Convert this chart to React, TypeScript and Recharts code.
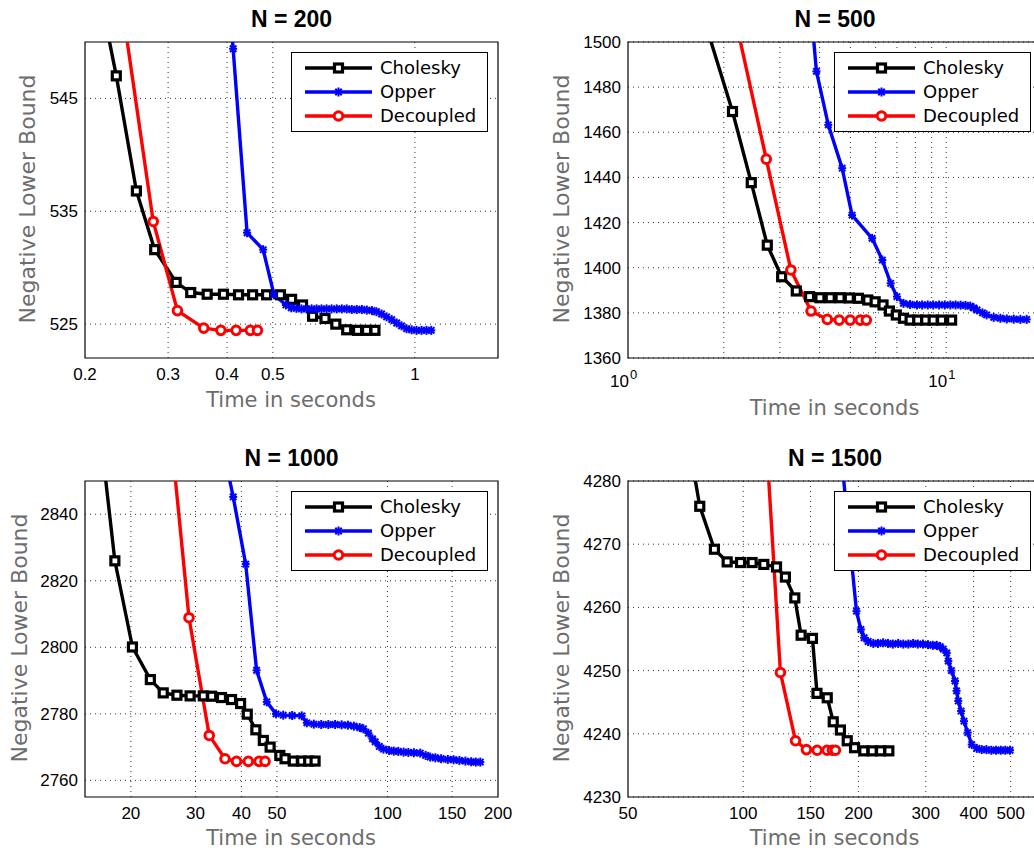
import React from "react"
import { LineChart, Line, XAxis, YAxis, CartesianGrid, ReferenceArea } from "recharts"

type Pt = [number, number]

// N = 200  (time in seconds, negative lower bound)
const CHOL_200: Pt[] = [
  [0.202, 560], [0.233, 547.0], [0.257, 536.8], [0.281, 531.6], [0.312, 528.7], [0.335, 527.8],
  [0.363, 527.65], [0.393, 527.65], [0.423, 527.6], [0.453, 527.6], [0.485, 527.6], [0.519, 527.6],
  [0.548, 527.2], [0.578, 526.7], [0.607, 525.7], [0.645, 525.5], [0.680, 525.0], [0.717, 524.5],
  [0.756, 524.45], [0.790, 524.45], [0.823, 524.45],
]
const OPP_200: Pt[] = [
  [0.394, 560], [0.412, 549.4], [0.441, 533.1], [0.477, 531.6], [0.503, 527.6], [0.533, 526.7],
  [0.547, 526.45], [0.561, 526.4], [0.575, 526.35], [0.589, 526.35], [0.604, 526.35], [0.619, 526.35],
  [0.634, 526.35], [0.650, 526.35], [0.666, 526.35], [0.683, 526.35], [0.700, 526.35], [0.717, 526.35],
  [0.735, 526.3], [0.753, 526.3], [0.772, 526.3], [0.791, 526.25], [0.811, 526.2], [0.829, 526.1],
  [0.850, 525.9], [0.871, 525.65], [0.893, 525.4], [0.915, 525.1], [0.937, 524.85], [0.960, 524.6],
  [0.984, 524.5], [1.008, 524.45], [1.033, 524.45], [1.058, 524.45], [1.083, 524.45],
]
const DEC_200: Pt[] = [
  [0.227, 560], [0.279, 534.1], [0.314, 526.2], [0.357, 524.65], [0.388, 524.45], [0.418, 524.45],
  [0.448, 524.45], [0.464, 524.45],
]

// N = 500
const CHOL_500: Pt[] = [
  [1.65, 1520], [2.13, 1469.2], [2.44, 1437.7], [2.74, 1410], [3.04, 1396], [3.38, 1389.7],
  [3.72, 1387.2], [4.01, 1386.7], [4.32, 1386.7], [4.64, 1386.7], [4.96, 1386.6], [5.30, 1386.45],
  [5.67, 1385.7], [5.98, 1384.9], [6.33, 1383.5], [6.63, 1380.8], [6.97, 1379.05], [7.34, 1377.6],
  [7.70, 1376.8], [8.14, 1376.8], [8.62, 1376.8], [9.10, 1376.8], [9.67, 1376.8], [10.40, 1376.8],
]
const OPP_500: Pt[] = [
  [3.73, 1520], [3.91, 1487], [4.26, 1463.3], [4.71, 1444.1], [5.06, 1423.3], [5.85, 1413],
  [6.3, 1403.4], [6.69, 1393.1], [7.0, 1387.2], [7.34, 1384.2], [7.7, 1383.7], [8.09, 1383.5],
  [8.4, 1383.5], [8.75, 1383.5], [9.1, 1383.5], [9.5, 1383.5], [9.9, 1383.5], [10.3, 1383.5],
  [10.7, 1383.5], [11.1, 1383.4], [11.5, 1383.3], [11.9, 1383.0], [12.2, 1382.2], [12.5, 1381.3],
  [13.0, 1380.0], [13.4, 1379.1], [14.1, 1378], [14.8, 1377.6], [15.5, 1377.3], [16.3, 1377.2],
  [17.1, 1377.1], [17.9, 1377.1],
]
const DEC_500: Pt[] = [
  [2.10, 1520], [2.72, 1448.1], [3.25, 1399], [3.76, 1380.8], [4.23, 1377.1], [4.61, 1376.8],
  [4.99, 1376.8], [5.37, 1376.8], [5.61, 1376.8],
]

// N = 1000
const CHOL_1000: Pt[] = [
  [16.3, 2870], [18.09, 2826], [20.2, 2800.1], [22.6, 2790.3], [24.5, 2786.3], [26.7, 2785.6],
  [29.0, 2785.4], [31.5, 2785.4], [33.2, 2785.3], [35.3, 2784.9], [37.6, 2784.3], [39.8, 2783.1],
  [41.5, 2779.9], [43.8, 2775.2], [45.9, 2772.0], [47.9, 2770.0], [50.9, 2767.5], [52.6, 2766.5],
  [55.4, 2765.8], [58.4, 2765.8], [61, 2765.8], [63.5, 2765.8],
]
const OPP_1000: Pt[] = [
  [34.1, 2870], [38.0, 2845.2], [41.1, 2825], [44.0, 2793.1], [46.9, 2783.6], [49.7, 2780.0],
  [52, 2779.6], [55, 2779.5], [58.4, 2779.4], [60.3, 2777.3], [63, 2776.9], [66, 2776.8],
  [69, 2776.8], [72, 2776.8], [75, 2776.7], [78, 2776.6], [81, 2776.3], [84, 2775.9],
  [86, 2775.5], [88.7, 2774.2], [91, 2772.5], [92.6, 2771.6], [95, 2770.2], [97.5, 2769.4],
  [101, 2769.0], [104, 2768.8], [107, 2768.7], [110.6, 2768.5], [114, 2768.4], [118, 2768.3],
  [122.8, 2768.2], [127, 2767.5], [130.7, 2767.0], [135, 2766.8], [140, 2766.5], [146, 2766.3],
  [151.4, 2766.2], [157, 2766.0], [163, 2765.8], [169, 2765.6], [174, 2765.5], [179, 2765.5],
]
const DEC_1000: Pt[] = [
  [25.4, 2870], [28.8, 2808.9], [32.7, 2773.5], [36.1, 2766.5], [38.8, 2765.7], [41.8, 2765.7],
  [44.7, 2765.7], [46.4, 2765.7],
]

// N = 1500
const CHOL_1500: Pt[] = [
  [70.3, 4290], [77.0, 4276.0], [84.1, 4269.2], [90.8, 4267.2], [98.4, 4267.1], [105.5, 4267.1],
  [113.2, 4266.8], [122.2, 4266.4], [128.9, 4264.8], [136.4, 4261.5], [141.7, 4255.6], [151.7, 4255.1],
  [155.9, 4246.4], [165.8, 4245.7], [171.9, 4241.9], [179.5, 4240.6], [187.0, 4238.9], [195.4, 4237.8],
  [206.6, 4237.3], [217.3, 4237.3], [228.5, 4237.3], [240.2, 4237.3],
]
const OPP_1500: Pt[] = [
  [176.6, 4290], [190, 4270], [197.7, 4259.4], [203, 4256.5], [207, 4255.2], [212, 4254.6],
  [218.7, 4254.3], [225, 4254.3], [232, 4254.4], [239, 4254.3], [246, 4254.2], [254, 4254.3],
  [262, 4254.2], [270, 4254.2], [278, 4254.3], [286, 4254.2], [295, 4254.2], [304, 4254.1],
  [313, 4254.0], [320.5, 4254.0], [327, 4253.8], [333.4, 4253.4], [340.3, 4252.8], [343.5, 4251.5],
  [350, 4250], [357.7, 4248.35], [361, 4246.8], [364.7, 4245.2], [371, 4243.6], [377.5, 4242.0],
  [386, 4240.2], [395.5, 4238.3], [407.8, 4237.7], [420, 4237.5], [432, 4237.5], [445, 4237.4],
  [458, 4237.4], [471, 4237.4], [484, 4237.4], [498, 4237.4],
]
const DEC_1500: Pt[] = [
  [114.0, 4290], [125.1, 4249.7], [137.0, 4238.9], [146.3, 4237.5], [156.0, 4237.4], [165.6, 4237.4],
  [171.0, 4237.4], [174.2, 4237.4],
]

const SERIES_NAMES = ["Cholesky", "Opper", "Decoupled"]
const SERIES_COLORS = ["#000000", "#0000ff", "#ff0000"]

const TICK_FONT = '"Liberation Sans", Arial, Helvetica, sans-serif'
const LABEL_FONT = '"DejaVu Sans", Verdana, sans-serif'

const toRows = (pts: Pt[]) => pts.map(([x, y]) => ({ x, y }))

function Marker({ kind, cx, cy }: { kind: number; cx: number; cy: number }) {
  if (kind === 0) {
    return <rect x={cx - 4} y={cy - 4} width={8} height={8} fill="#fff" stroke="#000" strokeWidth={3.2} />
  }
  if (kind === 2) {
    return <circle cx={cx} cy={cy} r={4.3} fill="#fff" stroke="#ff0000" strokeWidth={3} />
  }
  return (
    <g stroke="#0000ff" strokeWidth={2}>
      <line x1={cx - 4} y1={cy} x2={cx + 4} y2={cy} />
      <line x1={cx} y1={cy - 4.5} x2={cx} y2={cy + 4.5} />
      <line x1={cx - 3.2} y1={cy - 3.2} x2={cx + 3.2} y2={cy + 3.2} />
      <line x1={cx - 3.2} y1={cy + 3.2} x2={cx + 3.2} y2={cy - 3.2} />
    </g>
  )
}

const makeDot = (kind: number) => (p: any) => {
  const key = `dot-${kind}-${p.index}`
  if (p.cx == null || p.cy == null) return <g key={key} />
  return (
    <g key={key}>
      <Marker kind={kind} cx={p.cx} cy={p.cy} />
    </g>
  )
}

const xTick = (p: any) => (
  <text x={p.x} y={p.y + 22} textAnchor="middle" fontSize={17} fontFamily={TICK_FONT} fill="#000">
    {p.payload.value}
  </text>
)

const powTick = (p: any) => (
  <g>
    <text x={p.x + 1} y={p.y + 29} textAnchor="end" fontSize={17} fontFamily={TICK_FONT} fill="#000">10</text>
    <text x={p.x + 2} y={p.y + 21} textAnchor="start" fontSize={13} fontFamily={TICK_FONT} fill="#000">
      {Math.round(Math.log10(p.payload.value))}
    </text>
  </g>
)

const makeYTick = (p: any) => (
  <text x={p.x - 7} y={p.y + 6} textAnchor="end" fontSize={17} fontFamily={TICK_FONT} fill="#000">
    {p.payload.value}
  </text>
)

interface PanelProps {
  left: number
  top: number
  width: number
  height: number
  plot: { x0: number; x1: number; y0: number; y1: number }
  xDomain: [number, number]
  yDomain: [number, number]
  xTicks: number[]
  yTicks: number[]
  gridX: number[]
  pow?: boolean
  series: Pt[][]
}

function Panel({ left, top, width, height, plot, xDomain, yDomain, xTicks, yTicks, gridX, pow, series }: PanelProps) {
  const yAxisW = 60
  const xAxisH = 30
  const margin = {
    top: plot.y0 - top,
    left: plot.x0 - left - yAxisW,
    right: left + width - plot.x1,
    bottom: top + height - plot.y1 - xAxisH,
  }
  return (
    <div style={{ position: "absolute", left, top }}>
      <LineChart width={width} height={height} margin={margin}>
        <CartesianGrid
          stroke="#333"
          strokeDasharray="1 4"
          horizontalValues={yTicks}
          verticalValues={gridX}
        />
        <XAxis
          type="number"
          dataKey="x"
          scale="log"
          domain={xDomain}
          allowDataOverflow
          ticks={xTicks}
          interval={0}
          tick={pow ? powTick : xTick}
          tickLine={false}
          axisLine={false}
          tickSize={0}
          tickMargin={0}
          height={xAxisH}
        />
        <YAxis
          type="number"
          dataKey="y"
          domain={yDomain}
          allowDataOverflow
          ticks={yTicks}
          interval={0}
          tick={makeYTick}
          tickLine={false}
          axisLine={false}
          tickSize={0}
          tickMargin={0}
          width={yAxisW}
        />
        <ReferenceArea
          x1={xDomain[0]}
          x2={xDomain[1]}
          y1={yDomain[0]}
          y2={yDomain[1]}
          fill="none"
          fillOpacity={0}
          stroke="#000"
          strokeWidth={1.2}
        />
        {series.map((pts, i) => (
          <Line
            key={SERIES_NAMES[i]}
            name={SERIES_NAMES[i]}
            data={toRows(pts)}
            dataKey="y"
            type="linear"
            stroke={SERIES_COLORS[i]}
            strokeWidth={3.4}
            dot={makeDot(i)}
            activeDot={false}
            isAnimationActive={false}
          />
        ))}
      </LineChart>
    </div>
  )
}

function LegendBox({ left, top }: { left: number; top: number }) {
  const rows = [16, 40, 64]
  return (
    <div
      style={{
        position: "absolute",
        left,
        top,
        width: 197,
        height: 80,
        border: "1px solid #000",
        background: "#fff",
        boxSizing: "border-box",
      }}
    >
      <svg width={195} height={78} style={{ display: "block" }}>
        {SERIES_NAMES.map((name, i) => (
          <g key={name}>
            <line x1={13} y1={rows[i] - 1} x2={80} y2={rows[i] - 1} stroke={SERIES_COLORS[i]} strokeWidth={3.4} />
            <Marker kind={i} cx={46.5} cy={rows[i] - 1} />
            <text x={88} y={rows[i] + 5} fontSize={18} fontFamily={LABEL_FONT} fill="#000">
              {name}
            </text>
          </g>
        ))}
      </svg>
    </div>
  )
}

const TITLES = ["N = 200", "N = 500", "N = 1000", "N = 1500"]

export default function App() {
  const topPlot = { y0: 42, y1: 358 }
  const botPlot = { y0: 481, y1: 797 }
  return (
    <div
      style={{
        position: "fixed",
        left: 0,
        top: 0,
        width: 1034,
        height: 850,
        overflow: "hidden",
        background: "#fff",
      }}
    >
      <Panel
        left={0} top={0} width={514} height={440}
        plot={{ x0: 85, x1: 498, ...topPlot }}
        xDomain={[0.2, 1.5]} yDomain={[522, 550]}
        xTicks={[0.2, 0.3, 0.4, 0.5, 1]} yTicks={[525, 535, 545]}
        gridX={[0.3, 0.4, 0.5, 1]}
        series={[CHOL_200, OPP_200, DEC_200]}
      />
      <Panel
        left={514} top={0} width={540} height={440}
        plot={{ x0: 628, x1: 1042, ...topPlot }}
        xDomain={[1, 20]} yDomain={[1360, 1500]}
        xTicks={[1, 10]} yTicks={[1360, 1380, 1400, 1420, 1440, 1460, 1480, 1500]}
        gridX={[2, 3, 4, 5, 6, 7, 8, 9, 10]}
        pow
        series={[CHOL_500, OPP_500, DEC_500]}
      />
      <Panel
        left={0} top={440} width={514} height={410}
        plot={{ x0: 85, x1: 498, ...botPlot }}
        xDomain={[15, 200]} yDomain={[2755, 2850]}
        xTicks={[20, 30, 40, 50, 100, 150, 200]} yTicks={[2760, 2780, 2800, 2820, 2840]}
        gridX={[20, 30, 40, 50, 100, 150]}
        series={[CHOL_1000, OPP_1000, DEC_1000]}
      />
      <Panel
        left={514} top={440} width={540} height={410}
        plot={{ x0: 628, x1: 1041, ...botPlot }}
        xDomain={[50, 600]} yDomain={[4230, 4280]}
        xTicks={[50, 100, 150, 200, 300, 400, 500]} yTicks={[4230, 4240, 4250, 4260, 4270, 4280]}
        gridX={[100, 150, 200, 300, 400, 500]}
        series={[CHOL_1500, OPP_1500, DEC_1500]}
      />

      <LegendBox left={291} top={52} />
      <LegendBox left={834} top={52} />
      <LegendBox left={291} top={491} />
      <LegendBox left={834} top={491} />

      <svg
        width={1034}
        height={850}
        style={{ position: "absolute", left: 0, top: 0, pointerEvents: "none" }}
      >
        {[
          [291.5, 27],
          [835, 27],
          [291.5, 466],
          [835, 466],
        ].map(([x, y], i) => (
          <text key={TITLES[i]} x={x} y={y} textAnchor="middle" fontSize={23} fontWeight="bold" fontFamily={TICK_FONT} fill="#000">
            {TITLES[i]}
          </text>
        ))}
        {[
          [291, 407],
          [834.5, 415],
          [291, 845],
          [834.5, 845],
        ].map(([x, y], i) => (
          <text key={`xl-${i}`} x={x} y={y} textAnchor="middle" fontSize={21} fontFamily={LABEL_FONT} fill="#6d6d6d">
            Time in seconds
          </text>
        ))}
        {[
          [35, 199],
          [569, 199],
          [26.5, 638],
          [569, 638],
        ].map(([x, y], i) => (
          <text
            key={`yl-${i}`}
            x={x}
            y={y}
            transform={`rotate(-90 ${x} ${y})`}
            textAnchor="middle"
            fontSize={22}
            fontFamily={LABEL_FONT}
            fill="#6d6d6d"
          >
            Negative Lower Bound
          </text>
        ))}
      </svg>
    </div>
  )
}
